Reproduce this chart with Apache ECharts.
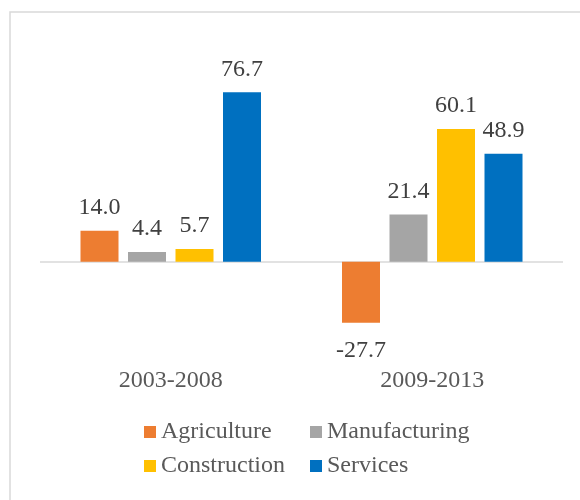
<!DOCTYPE html>
<html>
<head>
<meta charset="utf-8">
<script src="https://cdn.jsdelivr.net/npm/echarts@6/dist/echarts.min.js"></script>
<style>
  html, body { margin: 0; padding: 0; background: #fff; }
  #chart { width: 580px; height: 500px; }
</style>
</head>
<body>
<div id="chart"></div>
<script>
// Growth contribution by sector, two periods
var categories = ['2003-2008', '2009-2013'];
var seriesNames = ['Agriculture', 'Manufacturing', 'Construction', 'Services'];
var agriculture = [14.0, -27.7];
var manufacturing = [4.4, 21.4];
var construction = [5.7, 60.1];
var services = [76.7, 48.9];

var values = [agriculture, manufacturing, construction, services];
var colors = ['#ED7D31', '#A5A5A5', '#FFC000', '#0070C0'];
var serif = '"Liberation Serif", "Times New Roman", serif';

var chart = echarts.init(document.getElementById('chart'));

function toData(arr) {
  return arr.map(function (v) {
    return v < 0
      ? { value: v, label: { position: 'bottom', distance: 16 } }
      : { value: v };
  });
}

var series = values.map(function (arr, i) {
  var s = {
    name: seriesNames[i],
    type: 'bar',
    data: toData(arr),
    barWidth: 38,
    barGap: '25%',
    itemStyle: { color: colors[i] },
    label: {
      show: true,
      position: 'top',
      distance: 11,
      fontFamily: serif,
      fontSize: 24,
      color: '#404040',
      formatter: function (p) { return p.value.toFixed(1); }
    }
  };
  if (i === 0) {
    s.markLine = {
      silent: true,
      symbol: 'none',
      z: 1,
      label: { show: false },
      lineStyle: { color: '#D9D9D9', width: 1.5, type: 'solid' },
      data: [{ yAxis: 0 }]
    };
  }
  return s;
});

function legendAt(name, left, top) {
  return {
    data: [name],
    left: left,
    top: top,
    padding: 0,
    icon: 'rect',
    itemWidth: 12,
    itemHeight: 12,
    selectedMode: false,
    textStyle: { fontFamily: serif, fontSize: 24, color: '#595959' }
  };
}

chart.setOption({
  animation: false,
  backgroundColor: '#fff',
  graphic: [{
    type: 'rect',
    shape: { x: 10, y: 12, width: 620, height: 600 },
    style: { fill: 'none', stroke: '#D9D9D9', lineWidth: 1.5 },
    silent: true
  }],
  grid: { left: 40, right: 17, top: 85, bottom: 150 },
  legend: [
    legendAt(seriesNames[0], 144, 420),
    legendAt(seriesNames[1], 310, 420),
    legendAt(seriesNames[2], 144, 454),
    legendAt(seriesNames[3], 310, 454)
  ],
  xAxis: {
    type: 'category',
    data: categories,
    axisLine: { show: false },
    axisTick: { show: false },
    axisLabel: { margin: 19, fontFamily: serif, fontSize: 24, color: '#595959' }
  },
  yAxis: {
    type: 'value',
    min: -40,
    max: 80,
    show: false,
    splitLine: { show: false }
  },
  series: series
});
</script>
</body>
</html>
